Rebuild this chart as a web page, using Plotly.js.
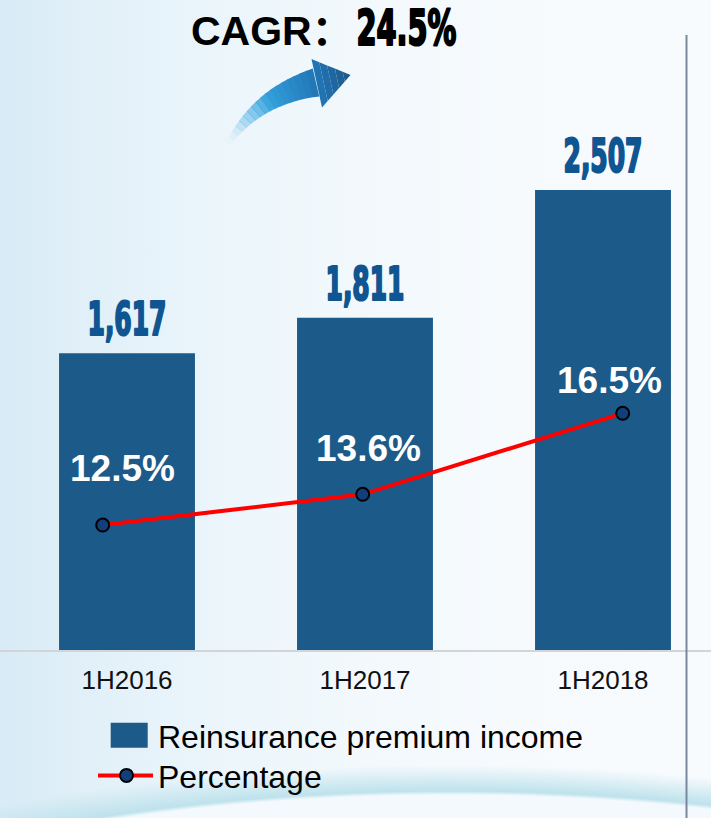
<!DOCTYPE html>
<html><head><meta charset="utf-8">
<script src="https://cdn.plot.ly/plotly-3.0.1.min.js"></script>
<style>
html,body{margin:0;padding:0;}
body{width:711px;height:818px;overflow:hidden;
background:
 radial-gradient(ellipse 800px 260px at 450px 1051px, rgba(243,249,252,1) 0%, rgba(243,249,252,1) 98.5%, rgba(190,226,236,1) 100%, rgba(205,232,240,0) 110%),
 linear-gradient(to right, #d9ebf6 0%, #e7f3fa 22%, #f1f8fc 45%, #f6fafd 70%, #f8fbfd 100%);}
#chart{width:711px;height:818px;}
</style></head>
<body><div id="chart"></div>
<script>
// ---- data ----
const categories = ['1H2016', '1H2017', '1H2018'];
const premiumIncome = [1617, 1811, 2507];
const percentage = [12.5, 13.6, 16.5];
const seriesNames = ['Reinsurance premium income', 'Percentage'];
const cagrLabel = 'CAGR：';
const cagrValue = '24.5%';

// ---- geometry helpers (pixels -> paper) ----
const W = 711, H = 818, PLOT_H = 650;
const px2x = p => p / W;
const py2y = p => (PLOT_H - p) / PLOT_H;

const sansFont = 'Liberation Sans, Arial, sans-serif';
const cjkSansFont = 'Liberation Sans, Arial, "Noto Sans CJK SC", sans-serif';
const narrowFont = 'Impact, "Liberation Sans Narrow", "DejaVu Sans Condensed", "Arial Narrow", sans-serif';

// ---- curved arrow built from gradient slices ----
function lerp(a, b, t) { return a + (b - a) * t; }
function mixColor(c1, c2, t) {
  return 'rgba(' + [0,1,2].map(k => Math.round(lerp(c1[k], c2[k], t))).join(',') + ',' + lerp(c1[3], c2[3], t).toFixed(3) + ')';
}
function shaftColor(s) {
  const stops = [[0, [200,228,245,0.0]], [0.25, [120,195,235,0.55]], [0.55, [50,160,220,1]], [1, [34,118,182,1]]];
  for (let i = 0; i < stops.length - 1; i++) {
    if (s <= stops[i+1][0]) {
      const t = (s - stops[i][0]) / (stops[i+1][0] - stops[i][0]);
      return mixColor(stops[i][1], stops[i+1][1], t);
    }
  }
  return mixColor(stops[3][1], stops[3][1], 0);
}
function bez(P0, P1, P2, t) {
  return [ (1-t)*(1-t)*P0[0] + 2*(1-t)*t*P1[0] + t*t*P2[0],
           (1-t)*(1-t)*P0[1] + 2*(1-t)*t*P1[1] + t*t*P2[1] ];
}
function bezT(P0, P1, P2, t) {
  const dx = 2*(1-t)*(P1[0]-P0[0]) + 2*t*(P2[0]-P1[0]);
  const dy = 2*(1-t)*(P1[1]-P0[1]) + 2*t*(P2[1]-P1[1]);
  const L = Math.hypot(dx, dy); return [dx/L, dy/L];
}
function pathOf(pts) {
  return 'M' + pts.map(p => px2x(p[0]).toFixed(5) + ',' + py2y(p[1]).toFixed(5)).join('L') + 'Z';
}
const arrowShapes = [];
(function buildArrow() {
  const P0 = [228, 144], P1 = [258, 96], P2 = [316, 82.5];
  const N = 18;
  const edge = t => {
    const c = bez(P0, P1, P2, t), d = bezT(P0, P1, P2, t);
    const w = lerp(5, 28.5, t) / 2;
    const n = [d[1], -d[0]];
    return [[c[0] + n[0]*w, c[1] + n[1]*w], [c[0] - n[0]*w, c[1] - n[1]*w]];
  };
  for (let i = 0; i < N; i++) {
    const t0 = i / N, t1 = Math.min(1, (i + 1.15) / N);
    const a = edge(t0), b = edge(t1);
    arrowShapes.push({type: 'path', xref: 'paper', yref: 'paper', layer: 'above',
      path: pathOf([a[0], b[0], b[1], a[1]]), fillcolor: shaftColor((i + 0.5) / N), line: {width: 0}});
  }
  const Btop = [311.5, 59], Bbot = [322, 107.5], tip = [350.5, 75];
  const M = 5;
  const c1 = [34,118,182,1], c2 = [28,88,138,1];
  for (let k = 0; k < M; k++) {
    const f0 = k / M, f1 = (k + 1) / M;
    const tp = f => [lerp(Btop[0], tip[0], f), lerp(Btop[1], tip[1], f)];
    const bt = f => [lerp(Bbot[0], tip[0], f), lerp(Bbot[1], tip[1], f)];
    arrowShapes.push({type: 'path', xref: 'paper', yref: 'paper', layer: 'above',
      path: pathOf([tp(f0), tp(f1), bt(f1), bt(f0)]), fillcolor: mixColor(c1, c2, (k + 0.5) / M), line: {width: 0}});
  }
})();

// ---- traces ----
const valueColor = '#0e5591';
const barTrace = {
  type: 'bar', name: seriesNames[0], x: categories, y: premiumIncome,
  width: 0.571,
  marker: {color: '#1b5a89', line: {width: 0}},
  texttemplate: '%{y:,.0f}', textposition: 'outside', cliponaxis: false, constraintext: 'none',
  textfont: {family: narrowFont, size: 46, color: valueColor, weight: 'bold'},
  hoverinfo: 'skip'
};
const lineTrace = {
  type: 'scatter', mode: 'lines+markers', name: seriesNames[1],
  x: categories, y: percentage, xaxis: 'x2', yaxis: 'y2',
  line: {color: '#ff0000', width: 4},
  marker: {size: 13, color: '#123f7c', line: {color: '#000000', width: 2}},
  cliponaxis: false, hoverinfo: 'skip'
};

// ---- annotations ----
const pctShiftX = [-5, 3, 6];
const pctShiftY = [57, 46, 33];
const annotations = percentage.map((v, i) => ({
  xref: 'x', yref: 'y2', x: i, y: v, text: v.toFixed(1) + '%', showarrow: false,
  xshift: pctShiftX[i], yshift: pctShiftY[i],
  font: {family: sansFont, size: 37, color: '#ffffff', weight: 'bold'}
}));
annotations.push({xref: 'paper', yref: 'paper', x: px2x(189), y: py2y(31), xanchor: 'left', yanchor: 'middle',
  text: cagrLabel, showarrow: false, font: {family: cjkSansFont, size: 41, color: '#000000', weight: 'bold'}});
annotations.push({xref: 'paper', yref: 'paper', x: px2x(406), y: py2y(28), xanchor: 'center', yanchor: 'middle',
  text: cagrValue, showarrow: false, font: {family: narrowFont, size: 49, color: '#000000', weight: 'bold'}});

const shapes = arrowShapes.concat([
  {type: 'line', xref: 'paper', yref: 'paper', x0: px2x(686.5), x1: px2x(686.5), y0: py2y(35), y1: py2y(H),
   line: {color: '#7b879d', width: 2}}
]);

const layout = {
  width: W, height: H,
  margin: {l: 0, r: 0, t: 0, b: H - PLOT_H, pad: 0, autoexpand: false},
  paper_bgcolor: 'rgba(0,0,0,0)', plot_bgcolor: 'rgba(0,0,0,0)',
  font: {family: sansFont, color: '#000000'},
  xaxis: {type: 'category', range: [-0.5336, 2.4538], showline: true, linecolor: '#d2d5d8', linewidth: 2,
    ticks: '', showgrid: false, zeroline: false, fixedrange: true, tickangle: 0, automargin: false,
    ticklabelstandoff: 6,
    tickfont: {family: sansFont, size: 26, color: '#111111'}},
  yaxis: {range: [0, 3543], visible: false, fixedrange: true},
  xaxis2: {type: 'category', overlaying: 'x', range: [-0.395, 2.3396], visible: false, fixedrange: true},
  yaxis2: {overlaying: 'y', range: [8.025, 31.30], visible: false, fixedrange: true},
  showlegend: true,
  legend: {orientation: 'v', xref: 'container', yref: 'container', x: 88 / W, y: 1 - 708 / H,
    xanchor: 'left', yanchor: 'top', bgcolor: 'rgba(0,0,0,0)', itemwidth: 60,
    font: {family: sansFont, size: 32, color: '#000000'}},
  annotations: annotations,
  shapes: shapes
};

// narrow the condensed-number texts horizontally and embolden them (mimics an Impact-style face)
function squeeze(el, sx, dy, color) {
  if (!el || el.dataset.sq) return;
  const bb = el.getBBox();
  const cx = bb.x + bb.width / 2, cy = bb.y + bb.height / 2;
  const orig = el.getAttribute('transform') || '';
  el.setAttribute('transform', orig + ' translate(0,' + dy + ') translate(' + cx + ',' + cy + ') scale(' + sx + ',1) translate(' + (-cx) + ',' + (-cy) + ')');
  el.style.stroke = color;
  el.style.strokeWidth = '2.2px';
  el.style.strokeLinejoin = 'round';
  el.dataset.sq = '1';
}
function finish(gd) {
  const traces = gd.querySelectorAll('.legend .traces');
  if (traces.length) {
    traces[0].querySelectorAll('.legendpoints path').forEach(el => el.setAttribute('d', 'M24.7,12.5H-12.3V-12.5H24.7Z'));
  }
  if (traces.length > 1 && !traces[1].dataset.mv) {
    const t = traces[1].getAttribute('transform') || '';
    traces[1].setAttribute('transform', t + ' translate(0,-4.5)');
    traces[1].dataset.mv = '1';
    const ln = traces[1].querySelector('.legendlines path');
    if (ln) {
      const bb = ln.getBBox();
      ln.setAttribute('d', 'M' + (bb.x + 5) + ',0h' + (bb.width - 5));
    }
    traces[1].querySelectorAll('.legendpoints path').forEach(p => {
      const tt = p.getAttribute('transform') || '';
      p.setAttribute('transform', 'translate(3.5,0) ' + tt);
    });
  }
  const barTexts = gd.querySelectorAll('text.bartext');
  if (barTexts.length) {
    const sx = 79 / barTexts[0].getBBox().width;
    barTexts.forEach(el => squeeze(el, sx, -4, valueColor));
  }
  const ann = gd.querySelectorAll('.annotation');
  if (ann.length >= 5) {
    const el = ann[4].querySelector('text');
    if (el) squeeze(el, 100 / el.getBBox().width, 0, '#000000');
  }
}
Plotly.newPlot('chart', [barTrace, lineTrace], layout, {staticPlot: true, displayModeBar: false}).then(finish);
</script></body></html>
